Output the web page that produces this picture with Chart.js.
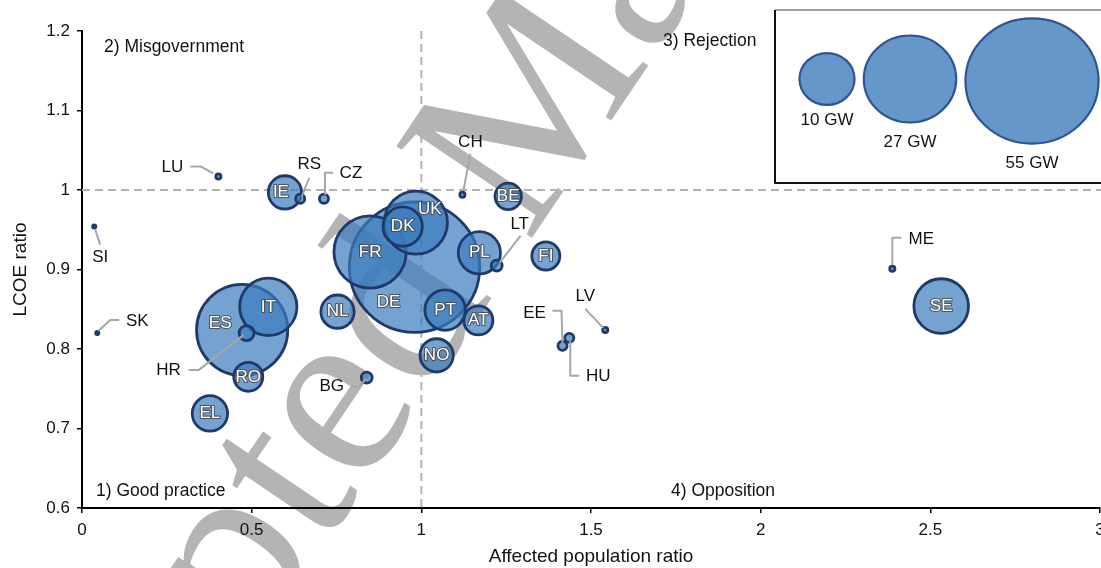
<!DOCTYPE html>
<html>
<head>
<meta charset="utf-8">
<script src="https://cdn.jsdelivr.net/npm/chart.js@4.4.1/dist/chart.umd.min.js"></script>
<style>
  html, body { margin: 0; padding: 0; background: #fff; }
  #wrap { width: 1101px; height: 568px; }
</style>
</head>
<body>
<div id="wrap"><canvas id="c" width="1101" height="568"></canvas></div>
<script>
// Country codes and their values
const countries = ['DE','ES','FR','UK','IT','SE','PL','PT','DK','EL','IE','NL','NO','FI','RO','AT','BE','HR','BG','LT','RS','CZ','EE','HU','LU','CH','LV','ME','SI','SK'];
const populationRatio = [0.980,0.472,0.849,0.984,0.549,2.532,1.171,1.070,0.945,0.377,0.598,0.753,1.045,1.367,0.490,1.168,1.256,0.485,0.839,1.222,0.643,0.713,1.416,1.436,0.402,1.121,1.542,2.388,0.036,0.045];
const lcoeRatio       = [0.903,0.824,0.922,0.959,0.853,0.854,0.921,0.849,0.954,0.719,0.997,0.847,0.792,0.917,0.765,0.836,0.992,0.820,0.764,0.905,0.989,0.989,0.804,0.814,1.017,0.994,0.824,0.901,0.954,0.820];
const capacityGW      = [56,27.9,17.8,13.7,11.4,10.4,6.4,5.9,5.6,4.6,4.1,4.1,4.1,3.0,3.2,3.2,2.7,1.0,0.6,0.6,0.45,0.45,0.45,0.45,0.2,0.2,0.2,0.2,0.05,0.05];

const xTicks = [0, 0.5, 1, 1.5, 2, 2.5, 3];
const yTicks = [0.6, 0.7, 0.8, 0.9, 1.0, 1.1, 1.2];
const quadrantNames = ['1) Good practice', '2) Misgovernment', '3) Rejection', '4) Opposition'];
const legendSizesGW = [10, 27, 55];
const legendLabels = ['10 GW', '27 GW', '55 GW'];

const FONT = '"Liberation Sans", Arial, Helvetica, sans-serif';
const BUBBLE_FILL = 'rgba(58,124,189,0.70)';
const BUBBLE_EDGE = '#1f3a68';
const LEADER = '#a6a6a6';

// bubble area proportional to installed capacity
const radiusOf = gw => Math.max(1.6, 8.9 * Math.sqrt(gw) - 1.4);

// label placement (pixel offsets from the bubble centre)
const insideOffsets = { DE: [-26, 35], UK: [14, -13], ES: [-22, -7], IE: [-4, 0] };
const callouts = {
  LU: { at: [-46, -9],  path: [[-28, -10], [-18, -10], [-5, -3]] },
  RS: { at: [9, -34],   path: [[9, -21], [1.5, -2]] },
  CZ: { at: [27, -25],  path: [[9, -26], [1, -26], [1, -4]] },
  SI: { at: [6, 31],    path: [[6, 18], [1, 3]] },
  SK: { at: [40, -12],  path: [[22, -13], [13, -13], [1, -2]] },
  HR: { at: [-78, 37],  path: [[-58, 37], [-48, 37], [-3, 2]] },
  BG: { at: [-35, 9],   path: [[-15, 9], [-7, 9], [-1, 1]] },
  CH: { at: [8, -52],   path: [[8, -41], [1, -4]] },
  LT: { at: [23, -41],  path: [[24, -30], [3, -3]] },
  EE: { at: [-28, -33], path: [[-10, -35], [-1, -35], [0, -3]] },
  HU: { at: [29, 38],   path: [[10, 38], [1, 38], [1, 3]] },
  LV: { at: [-20, -34], path: [[-20, -21], [-2, -2]] },
  ME: { at: [29, -29],  path: [[9, -31], [0, -31], [0, -4]] }
};

const fmt = v => String(Math.round(v * 10) / 10);

const points = countries.map((c, i) => ({
  x: populationRatio[i], y: lcoeRatio[i], r: radiusOf(capacityGW[i]), code: c
}));

function outlinedText(ctx, text, x, y) {
  ctx.lineWidth = 2.2;
  ctx.strokeStyle = 'rgba(70,70,70,0.85)';
  ctx.lineJoin = 'round';
  ctx.strokeText(text, x, y);
  ctx.fillStyle = '#ffffff';
  ctx.fillText(text, x, y);
}

const decor = {
  id: 'decor',
  beforeDraw(chart) {
    // diagonal watermark lettering behind the plot
    const ctx = chart.ctx;
    ctx.save();
    ctx.translate(565, 189);
    ctx.rotate(-56 * Math.PI / 180);
    ctx.font = '250px "Liberation Serif", "Times New Roman", serif';
    ctx.fillStyle = '#b4b4b4';
    ctx.textAlign = 'center';
    ctx.textBaseline = 'alphabetic';
    ctx.fillText('Accepted Manuscript', 0, 0);
    ctx.restore();
  },
  beforeDatasetsDraw(chart) {
    // quadrant separators at ratio = 1
    const { ctx, chartArea, scales } = chart;
    const x1 = scales.x.getPixelForValue(1);
    const y1 = scales.y.getPixelForValue(1);
    ctx.save();
    ctx.strokeStyle = '#b3b3b3';
    ctx.lineWidth = 2;
    ctx.setLineDash([8, 5]);
    ctx.beginPath();
    ctx.moveTo(x1, chartArea.top);
    ctx.lineTo(x1, chartArea.bottom);
    ctx.moveTo(chartArea.left, y1);
    ctx.lineTo(chart.width, y1);
    ctx.stroke();
    ctx.restore();
  },
  afterDatasetsDraw(chart) {
    const { ctx } = chart;
    const meta = chart.getDatasetMeta(0);
    ctx.save();
    ctx.font = '17px ' + FONT;
    ctx.textAlign = 'center';
    ctx.textBaseline = 'middle';
    meta.data.forEach((el, i) => {
      const p = points[i];
      const co = callouts[p.code];
      if (co) {
        ctx.strokeStyle = LEADER;
        ctx.lineWidth = 2;
        ctx.setLineDash([]);
        ctx.beginPath();
        co.path.forEach(([dx, dy], k) => {
          if (k === 0) ctx.moveTo(el.x + dx, el.y + dy); else ctx.lineTo(el.x + dx, el.y + dy);
        });
        ctx.stroke();
        ctx.fillStyle = '#111';
        ctx.fillText(p.code, el.x + co.at[0], el.y + co.at[1]);
      } else {
        const off = insideOffsets[p.code] || [0, 0];
        outlinedText(ctx, p.code, el.x + off[0], el.y + off[1]);
      }
    });

    // quadrant captions
    ctx.fillStyle = '#111';
    ctx.textAlign = 'left';
    ctx.font = '17.5px ' + FONT;
    ctx.fillText(quadrantNames[0], 96, 491);
    ctx.fillText(quadrantNames[1], 104, 47);
    ctx.fillText(quadrantNames[2], 663, 41);
    ctx.fillText(quadrantNames[3], 671, 491);

    // size key
    ctx.fillStyle = '#ffffff';
    ctx.fillRect(776, 11, 330, 172);
    ctx.lineWidth = 2;
    ctx.strokeStyle = '#a0a0a0';
    ctx.beginPath(); ctx.moveTo(775, 10); ctx.lineTo(1101, 10); ctx.stroke();
    ctx.strokeStyle = '#111';
    ctx.beginPath(); ctx.moveTo(775, 10); ctx.lineTo(775, 183); ctx.lineTo(1101, 183); ctx.stroke();
    const keyCentres = [[827, 79], [910, 79], [1032, 81]];
    const keyLabelY = [120, 142, 163];
    legendSizesGW.forEach((gw, k) => {
      const r = radiusOf(gw);
      ctx.beginPath();
      ctx.ellipse(keyCentres[k][0], keyCentres[k][1], r * 1.03, r * 0.97, 0, 0, Math.PI * 2);
      ctx.fillStyle = '#6598c9';
      ctx.fill();
      ctx.lineWidth = 2.2;
      ctx.strokeStyle = '#2f5496';
      ctx.stroke();
      ctx.fillStyle = '#111';
      ctx.textAlign = 'center';
      ctx.font = '17px ' + FONT;
      ctx.fillText(legendLabels[k], keyCentres[k][0], keyLabelY[k]);
    });
    ctx.restore();
  }
};

new Chart(document.getElementById('c'), {
  type: 'bubble',
  data: {
    datasets: [{
      data: points,
      backgroundColor: BUBBLE_FILL,
      borderColor: BUBBLE_EDGE,
      borderWidth: 2.8,
      clip: false
    }]
  },
  options: {
    responsive: false,
    animation: false,
    events: [],
    layout: { autoPadding: false, padding: { top: 31, right: 1, bottom: 0, left: 0 } },
    plugins: { legend: { display: false }, tooltip: { enabled: false } },
    scales: {
      x: {
        type: 'linear', min: 0, max: 3,
        afterFit(s) { s.height = 60; s.paddingLeft = 0; s.paddingRight = 0; },
        afterBuildTicks(s) { s.ticks = xTicks.map(v => ({ value: v })); },
        ticks: { callback: fmt, font: { family: FONT, size: 17 }, color: '#111', padding: 7, maxRotation: 0 },
        grid: { drawOnChartArea: false, drawTicks: true, tickLength: 5, color: '#000', lineWidth: 1.5 },
        border: { display: true, color: '#000', width: 2 },
        title: { display: true, text: 'Affected population ratio', font: { family: FONT, size: 19 }, color: '#111', padding: { top: 0, bottom: 0 } }
      },
      y: {
        type: 'linear', min: 0.6, max: 1.2,
        afterFit(s) { s.width = 82; },
        afterBuildTicks(s) { s.ticks = yTicks.map(v => ({ value: v })); },
        ticks: { callback: fmt, font: { family: FONT, size: 17 }, color: '#111', padding: 7 },
        grid: { drawOnChartArea: false, drawTicks: true, tickLength: 5, color: '#000', lineWidth: 1.5 },
        border: { display: true, color: '#000', width: 2 },
        title: { display: true, text: 'LCOE ratio', font: { family: FONT, size: 19 }, color: '#111', padding: { top: 9, bottom: 0 } }
      }
    }
  },
  plugins: [decor]
});
</script>
</body>
</html>
